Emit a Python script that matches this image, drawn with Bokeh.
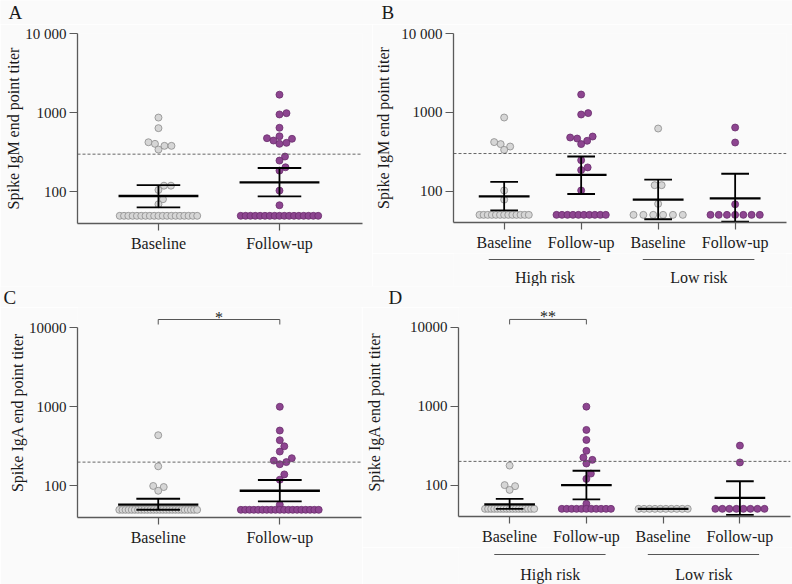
import math
from itertools import groupby
from bokeh.plotting import figure
from bokeh.models import Range1d, FixedTicker, Span
from bokeh.layouts import column, row
from bokeh.embed import file_html
from bokeh.resources import INLINE
from bokeh.core.properties import value

# ---------------- data ----------------
visits2 = ["Baseline", "Follow-up"]
visits4 = ["Baseline", "Follow-up", "Baseline", "Follow-up"]
risk_groups = ["High risk", "Low risk"]
panel_letters = ["A", "B", "C", "D"]
y_ticks = [100, 1000, 10000]
y_tick_labels_igm = ["100", "1000", "10 000"]
y_tick_labels_iga = ["100", "1000", "10000"]
limit = 50
igm_cutoff = 300
iga_cutoff = 200
sig_all = "*"
sig_high_risk = "**"

# Panel A: IgM, all participants
igm_all_baseline = [869, 639, 424, 405, 382, 382, 343, 120, 120, 106, 81, 70,
                    50, 50, 50, 50, 50, 50, 50, 50, 50, 50, 50, 50, 50, 50, 50, 50, 50, 50, 50]
igm_all_followup = [1690, 988, 951, 646, 505, 477, 469, 446, 417, 405, 280, 249, 205, 186, 104, 68,
                    50, 50, 50, 50, 50, 50, 50, 50, 50, 50, 50, 50, 50, 50, 50, 50, 50]
igm_all_mean = [89, 132]
igm_all_lo = [64, 88]
igm_all_hi = [122, 201]

# Panel B: IgM by risk group
igm_hr_baseline = [859, 419, 395, 368, 334, 102, 78,
                   50, 50, 50, 50, 50, 50, 50, 50, 50, 50, 50, 50, 50]
igm_hr_followup = [1682, 977, 938, 493, 479, 465, 435, 395, 247, 200, 185, 102,
                   50, 50, 50, 50, 50, 50, 50, 50, 50, 50]
igm_lr_baseline = [623, 119, 119, 69, 50, 50, 50, 50, 50, 50]
igm_lr_followup = [641, 414, 68, 50, 50, 50, 50, 50, 50, 50]
igm_risk_mean = [86, 161, 78, 81]
igm_risk_lo = [57, 92, 44, 41]
igm_risk_hi = [131, 275, 140, 166]

# Panel C: IgA, all participants
iga_all_baseline = [437, 177, 100, 97, 87,
                    50, 50, 50, 50, 50, 50, 50, 50, 50, 50, 50, 50, 50,
                    50, 50, 50, 50, 50, 50, 50, 50, 50, 50, 50, 50, 50]
iga_all_followup = [1000, 501, 378, 317, 272, 224, 209, 200, 188, 140, 120, 58,
                    50, 50, 50, 50, 50, 50, 50, 50, 50, 50, 50, 50, 50, 50, 50, 50, 50, 50, 50]
iga_all_mean = [58, 87]
iga_all_lo = [50, 64]
iga_all_hi = [69, 119]

# Panel D: IgA by risk group
iga_hr_baseline = [177, 100, 97, 87,
                   50, 50, 50, 50, 50, 50, 50, 50, 50, 50, 50, 50, 50, 50, 50, 50, 50]
iga_hr_followup = [989, 501, 374, 272, 224, 209, 188, 140, 120, 58,
                   50, 50, 50, 50, 50, 50, 50, 50, 50, 50, 50]
iga_lr_baseline = [50, 50, 50, 50, 50, 50, 50, 50, 50, 50]
iga_lr_followup = [317, 194, 50, 50, 50, 50, 50, 50, 50, 50]
iga_risk_mean = [57, 100, 50, 69]
iga_risk_lo = [50, 66, 50, 42]
iga_risk_hi = [67, 152, 50, 112]

# ---------------- style ----------------
BG = "#fafafa"
FONT = "Liberation Serif"
TXT = "#1a1a1a"
AXC = "#5a5a5a"
GRAY_FILL, GRAY_LINE = "#d6d6d6", "#8a8a8a"
PURP_FILL, PURP_LINE = "#8d4590", "#6a2d6c"
Y0, Y1 = 40, 10000
FRAME_H = 190
DPX = FRAME_H / math.log10(Y1 / Y0)   # pixels per decade
PPU = {}


def swarm_offsets(vals, ppu, half=0.32, d=7.0):
    n = len(vals)
    off = [0.0] * n
    lim = [i for i, v in enumerate(vals) if v == limit]
    k = len(lim)
    for j, i in enumerate(lim):
        off[i] = 0.0 if k == 1 else -half + 2 * half * j / (k - 1)
    others = sorted([i for i in range(n) if vals[i] != limit], key=lambda i: vals[i])
    placed = []
    for v, grp in groupby(others, key=lambda i: vals[i]):
        grp = list(grp)
        m = len(grp)
        y = math.log10(v) * DPX
        xs = None
        for step in range(0, 400):
            ok = False
            for sgn in ((1, -1) if step else (1,)):
                b = sgn * step * 0.5
                cand = [b + (j - (m - 1) / 2) * d for j in range(m)]
                if all((x - px) ** 2 + (y - py) ** 2 >= (0.95 * d) ** 2
                       for x in cand for (px, py) in placed):
                    xs = cand
                    ok = True
                    break
            if ok:
                break
        for j, i in enumerate(grp):
            placed.append((xs[j], y))
            off[i] = xs[j] / ppu
    return off


def make_fig(key, w, h, left, right, top, bottom, frame_w, xr, cats, cat_labels,
             ylabel, ytick_labels, ylabel_standoff, extra_top_px=0):
    y_top = Y1 * 10 ** (extra_top_px / DPX)
    p = figure(width=w, height=h, x_range=Range1d(*xr), y_range=Range1d(Y0, y_top),
               y_axis_type="log", output_backend="svg", toolbar_location=None,
               min_border_left=left, min_border_right=right,
               min_border_top=top, min_border_bottom=bottom,
               background_fill_color=BG, border_fill_color=BG, outline_line_color=None)
    p.grid.visible = False
    xa = p.xaxis[0]
    ya = p.yaxis[0]
    xa.ticker = FixedTicker(ticks=cats, minor_ticks=[])
    xa.major_label_overrides = {c: t for c, t in zip(cats, cat_labels)}
    ya.ticker = FixedTicker(ticks=y_ticks, minor_ticks=[])
    ya.major_label_overrides = {t: s for t, s in zip(y_ticks, ytick_labels)}
    ya.bounds = (Y0, Y1)
    for ax in (xa, ya):
        ax.axis_line_color = AXC
        ax.axis_line_width = 1.3
        ax.major_tick_line_color = AXC
        ax.major_tick_line_width = 1.2
        ax.major_tick_in = 0
        ax.minor_tick_line_color = None
        ax.major_label_text_font = FONT
        ax.major_label_text_color = TXT
    xa.major_tick_out = 7
    ya.major_tick_out = 8
    xa.major_label_text_font_size = "16px"
    ya.major_label_text_font_size = "15px"
    xa.major_label_standoff = 4
    ya.major_label_standoff = 3
    ya.axis_label = ylabel
    ya.axis_label_text_font = FONT
    ya.axis_label_text_font_size = "16px"
    ya.axis_label_text_font_style = "normal"
    ya.axis_label_text_color = TXT
    ya.axis_label_standoff = ylabel_standoff
    PPU[key] = frame_w / (xr[1] - xr[0])
    return p


def plain_fig(w, h, xr, yr, left=0, right=0):
    p = figure(width=w, height=h, x_range=xr, y_range=yr, output_backend="svg",
               toolbar_location=None, x_axis_location=None, y_axis_location=None,
               min_border_left=left, min_border_right=right, min_border_top=0,
               min_border_bottom=0, background_fill_color=BG, border_fill_color=BG,
               outline_line_color=None)
    p.grid.visible = False
    return p


def draw_points(p, key, pos, vals, fill, line):
    offs = swarm_offsets(vals, PPU[key])
    p.scatter([pos + o for o in offs], vals, size=7, fill_color=fill,
              line_color=line, line_width=0.8)


def draw_stats(p, cats, mean, lo, hi):
    kw = dict(line_color="black")
    p.segment(x0=[c - 0.33 for c in cats], x1=[c + 0.33 for c in cats], y0=mean, y1=mean,
              line_width=2.3, **kw)
    p.segment(x0=[c - 0.18 for c in cats], x1=[c + 0.18 for c in cats], y0=hi, y1=hi,
              line_width=1.9, **kw)
    p.segment(x0=[c - 0.18 for c in cats], x1=[c + 0.18 for c in cats], y0=lo, y1=lo,
              line_width=1.9, **kw)
    p.segment(x0=cats, x1=cats, y0=lo, y1=hi, line_width=1.8, **kw)


def cutoff_line(p, level):
    p.add_layout(Span(location=level, dimension="width", line_color="#555555",
                      line_width=0.9, line_dash="3 2"))


def bracket(p, c1, c2, stars):
    yb = Y1 * 10 ** (8 / DPX)
    yt = Y1 * 10 ** (3 / DPX)
    p.segment(x0=[c1, c1, c2], x1=[c2, c1, c2], y0=[yb, yb, yb], y1=[yb, yt, yt],
              line_color="#555555", line_width=1)
    p.text(x=[(c1 + c2) / 2], y=[Y1 * 10 ** (10.5 / DPX)], text=[stars],
           text_align="center", text_baseline="middle", text_font=value(FONT),
           text_font_size="16px", text_color=TXT)


def group_strip(main, w, h, left, right, line_y, text_y, pairs, names):
    s = plain_fig(w, h, main.x_range, Range1d(h, 0), left, right)
    s.segment(x0=[a - 0.2 for a, b in pairs], x1=[b + 0.25 for a, b in pairs],
              y0=[line_y] * len(pairs), y1=[line_y] * len(pairs),
              line_color="#555555", line_width=1)
    s.text(x=[(a + b) / 2 + 0.03 for a, b in pairs], y=[text_y] * len(pairs), text=names,
           text_align="center", text_baseline="middle", text_font=value(FONT),
           text_font_size="16px", text_color=TXT)
    return s


def letter_strip(h, xs, mid, letters):
    s = plain_fig(792, h, Range1d(0, 792), Range1d(h, 0))
    s.text(x=xs, y=[mid] * len(xs), text=letters, text_align="left",
           text_baseline="middle", text_font=value(FONT), text_font_size="19px",
           text_color=TXT)
    return s


cats2 = [1, 2]
cats4 = [1, 2, 3, 4]

# ---- Panel A ----
pA = make_fig("A", 372, 262, 77, 10, 9, 63, 285, (0.331, 2.686), cats2, visits2,
              "Spike IgM end point titer", y_tick_labels_igm, 0)
cutoff_line(pA, igm_cutoff)
draw_points(pA, "A", 1, igm_all_baseline, GRAY_FILL, GRAY_LINE)
draw_points(pA, "A", 2, igm_all_followup, PURP_FILL, PURP_LINE)
draw_stats(pA, cats2, igm_all_mean, igm_all_lo, igm_all_hi)

# ---- Panel B ----
pB = make_fig("B", 420, 229, 81, 6, 9, 30, 333, (0.342, 4.667), cats4, visits4,
              "Spike IgM end point titer", y_tick_labels_igm, 6)
cutoff_line(pB, igm_cutoff)
draw_points(pB, "B", 1, igm_hr_baseline, GRAY_FILL, GRAY_LINE)
draw_points(pB, "B", 2, igm_hr_followup, PURP_FILL, PURP_LINE)
draw_points(pB, "B", 3, igm_lr_baseline, GRAY_FILL, GRAY_LINE)
draw_points(pB, "B", 4, igm_lr_followup, PURP_FILL, PURP_LINE)
draw_stats(pB, cats4, igm_risk_mean, igm_risk_lo, igm_risk_hi)
sB = group_strip(pB, 420, 33, 81, 6, 6, 23.5, [(1, 2), (3, 4)], risk_groups)

# ---- Panel C ----
pC = make_fig("C", 362, 277, 77, 1, 0, 67, 284, (0.336, 2.672), cats2, visits2,
              "Spike IgA end point titer", y_tick_labels_iga, 0, extra_top_px=20)
cutoff_line(pC, iga_cutoff)
draw_points(pC, "C", 1, iga_all_baseline, GRAY_FILL, GRAY_LINE)
draw_points(pC, "C", 2, iga_all_followup, PURP_FILL, PURP_LINE)
draw_stats(pC, cats2, iga_all_mean, iga_all_lo, iga_all_hi)
bracket(pC, 1, 2, sig_all)

# ---- Panel D ----
pD = make_fig("D", 430, 240, 95, 2, 0, 30, 333, (0.334, 4.659), cats4, visits4,
              "Spike IgA end point titer", y_tick_labels_iga, 24, extra_top_px=20)
cutoff_line(pD, iga_cutoff)
draw_points(pD, "D", 1, iga_hr_baseline, GRAY_FILL, GRAY_LINE)
draw_points(pD, "D", 2, iga_hr_followup, PURP_FILL, PURP_LINE)
draw_points(pD, "D", 3, iga_lr_baseline, GRAY_FILL, GRAY_LINE)
draw_points(pD, "D", 4, iga_lr_followup, PURP_FILL, PURP_LINE)
draw_stats(pD, cats4, iga_risk_mean, iga_risk_lo, iga_risk_hi)
bracket(pD, 1, 2, sig_high_risk)
sD = group_strip(pD, 430, 37, 95, 2, 7, 27, [(1, 2), (3, 4)], risk_groups)

top_letters = letter_strip(24, [8, 381], 12, panel_letters[:2])
bottom_letters = letter_strip(21, [3, 388], 10.5, panel_letters[2:])

layout = column(
    top_letters,
    row(pA, column(pB, sB)),
    bottom_letters,
    row(pC, column(pD, sD)),
)
open("out.html", "w").write(file_html(layout, INLINE))
